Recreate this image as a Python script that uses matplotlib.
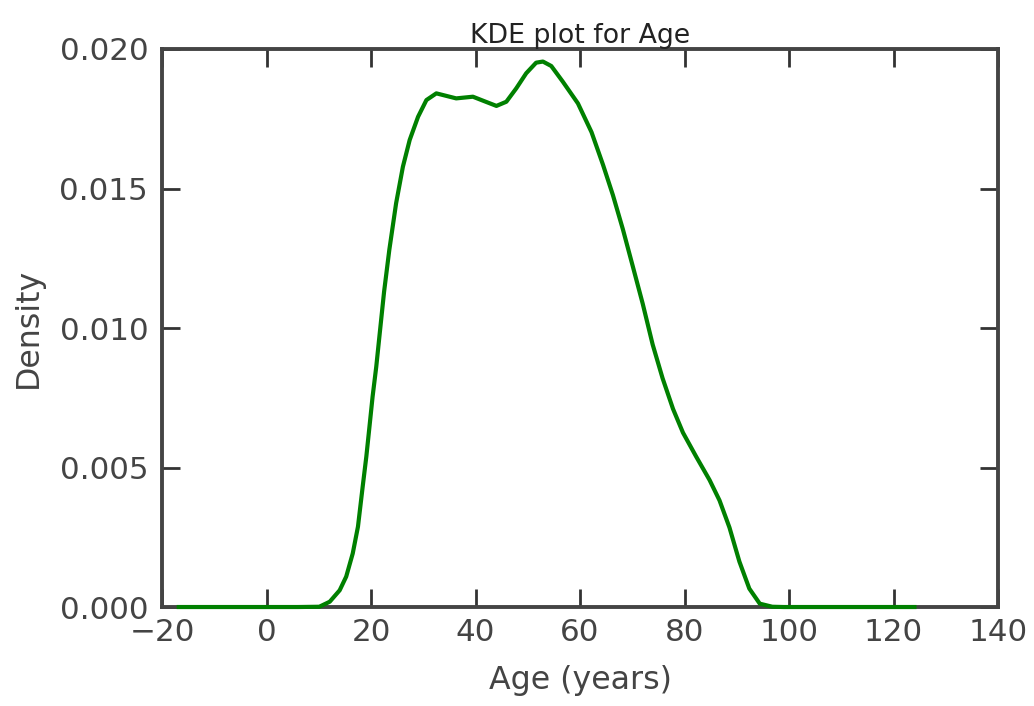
import matplotlib as mpl
import matplotlib.pyplot as plt

# Age density curve, sampled along the estimate (years, density)
AGE = [-17.2, -10.0, 0.0, 6.0, 10.1, 12.1, 14.0, 15.25, 16.5, 17.5, 18.4,
       19.1, 19.7, 20.3, 21.0, 21.6, 22.5, 23.5, 24.8, 26.1, 27.4, 29.0,
       30.6, 32.5, 34.4, 36.3, 39.5, 41.4, 44.0, 45.9, 47.8, 49.7, 51.6,
       52.9, 54.5, 56.7, 59.6, 62.2, 64.4, 66.3, 68.2, 70.1, 72.0, 73.9,
       75.8, 77.8, 79.7, 82.2, 84.8, 86.7, 88.6, 90.5, 92.4, 94.4, 96.8,
       99.0, 105.0, 115.0, 124.4]
DENSITY = [0.0, 0.0, 0.0, 0.0, 0.00001, 0.00019, 0.0006, 0.00109, 0.00192,
           0.00288, 0.00431, 0.00539, 0.00646, 0.00754, 0.00861, 0.00969,
           0.0113, 0.0128, 0.01447, 0.01578, 0.01674, 0.01757, 0.01817,
           0.01841, 0.01832, 0.01823, 0.01829, 0.01815, 0.01796, 0.01811,
           0.01859, 0.01913, 0.01951, 0.01955, 0.01939, 0.01883, 0.01805,
           0.01702, 0.01585, 0.01476, 0.01354, 0.01221, 0.01087, 0.00941,
           0.0082, 0.0071, 0.00625, 0.0054, 0.00455, 0.00382, 0.00285,
           0.00163, 0.00066, 0.00012, 0.00001, 0.0, 0.0, 0.0, 0.0]

X_TICKS = [-20, 0, 20, 40, 60, 80, 100, 120, 140]
Y_TICKS = [0.000, 0.005, 0.010, 0.015, 0.020]

FRAME = "#444444"
TEXT = "#444444"

mpl.rcParams["font.family"] = "DejaVu Sans"

fig = plt.figure(figsize=(10.34, 7.06), dpi=100)
ax = fig.add_axes([0.1567, 0.1402, 0.8085, 0.7904])

# drawn above the frame so the flat tails stay visible on the bottom spine
ax.plot(AGE, DENSITY, color="green", linewidth=3.0, zorder=3, clip_on=False,
        solid_joinstyle="round", solid_capstyle="butt")

ax.set_xlim(-20, 140)
ax.set_ylim(0, 0.020)
ax.set_xticks(X_TICKS)
ax.set_yticks(Y_TICKS)
ax.set_yticklabels([f"{v:.3f}" for v in Y_TICKS])

for side in ax.spines.values():
    side.set_color(FRAME)
    side.set_linewidth(2.8)

ax.tick_params(axis="both", which="major", direction="in",
               top=True, right=True, length=13, width=2.0,
               color="#333333", labelsize=22.3, labelcolor=TEXT)
ax.tick_params(axis="y", pad=10)
ax.tick_params(axis="x", pad=8)

ax.set_xlabel("Age (years)", fontsize=22.8, color=TEXT, labelpad=13)
ax.set_ylabel("Density", fontsize=22.8, color=TEXT, labelpad=11)
ax.set_title("KDE plot for Age", fontsize=19.3, color="#222222", pad=4)

fig.savefig("out.png", dpi=100, facecolor="white")
